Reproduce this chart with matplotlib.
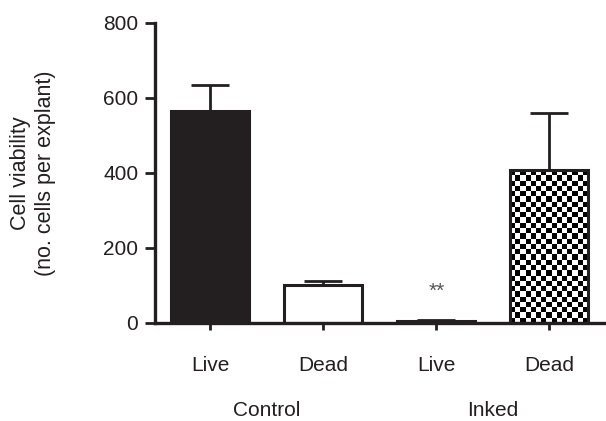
import numpy as np
import matplotlib.pyplot as plt
import matplotlib.transforms as mtransforms

plt.rcParams["font.family"] = ["Liberation Sans", "DejaVu Sans"]

tick_labels = ["Live", "Dead", "Live", "Dead"]
groups = ["Control", "Inked"]
values = [565, 100, 5, 407]
errors = [70, 13, 4, 153]
y_ticks = [0, 200, 400, 600, 800]

fig = plt.figure(figsize=(6.06, 4.21), dpi=100)
ax = fig.add_axes([0.2558, 0.2328, 0.7442, 0.7126])

x = np.arange(len(values))
faces = ["#231f20", "white", "white", "none"]
bars = ax.bar(x, values, width=0.69, color=faces, edgecolor="#231f20",
              linewidth=2.2, zorder=2)
ax.errorbar(x, values, yerr=[[0] * len(values), errors], fmt="none",
            ecolor="#231f20", elinewidth=2, capsize=14, capthick=2, zorder=1)

ax.set_xlim(-0.49, 3.5)
ax.set_ylim(0, 800)

# checkerboard fill for the inked "Dead" bar
fig.canvas.draw()
bar = bars[3]
bx, bw, bh = bar.get_x(), bar.get_width(), bar.get_height()
px = ax.transData.transform([[bx, 0], [bx + bw, bh]])
wpx, hpx = px[1] - px[0]
nx = 15
ny = int(round(hpx / (wpx / nx)))
board = (np.indices((ny, nx)).sum(axis=0) % 2).astype(float)
im = ax.imshow(board, cmap="gray", vmin=0, vmax=1,
               extent=[bx, bx + bw, 0, bh], aspect="auto",
               interpolation="nearest", zorder=1.5)
ax.set_xlim(-0.49, 3.5)
ax.set_ylim(0, 800)

for side in ["top", "right"]:
    ax.spines[side].set_visible(False)
for side in ["left", "bottom"]:
    ax.spines[side].set_linewidth(2.4)
    ax.spines[side].set_color("#231f20")

ax.set_yticks(y_ticks)
ax.set_xticks(x)
ax.set_xticklabels(tick_labels)
ax.tick_params(axis="y", length=7, width=2, pad=5, labelsize=15,
               colors="#231f20")
ax.tick_params(axis="x", length=5, width=2, pad=19, labelsize=15,
               colors="#231f20")

ax.set_ylabel("Cell viability\n(no. cells per explant)", fontsize=15.5,
              color="#231f20", labelpad=34, linespacing=1.25)

trans = mtransforms.blended_transform_factory(ax.transData, ax.transAxes)
for i, g in enumerate(groups):
    ax.text(2 * i + 0.5, -0.293, g, transform=trans, ha="center",
            va="center", fontsize=15, color="#231f20")

ax.text(x[2], values[2] + errors[2] + 75, "**", ha="center", va="center",
        fontsize=15, color="#555555")

fig.savefig("out.png", dpi=100)
